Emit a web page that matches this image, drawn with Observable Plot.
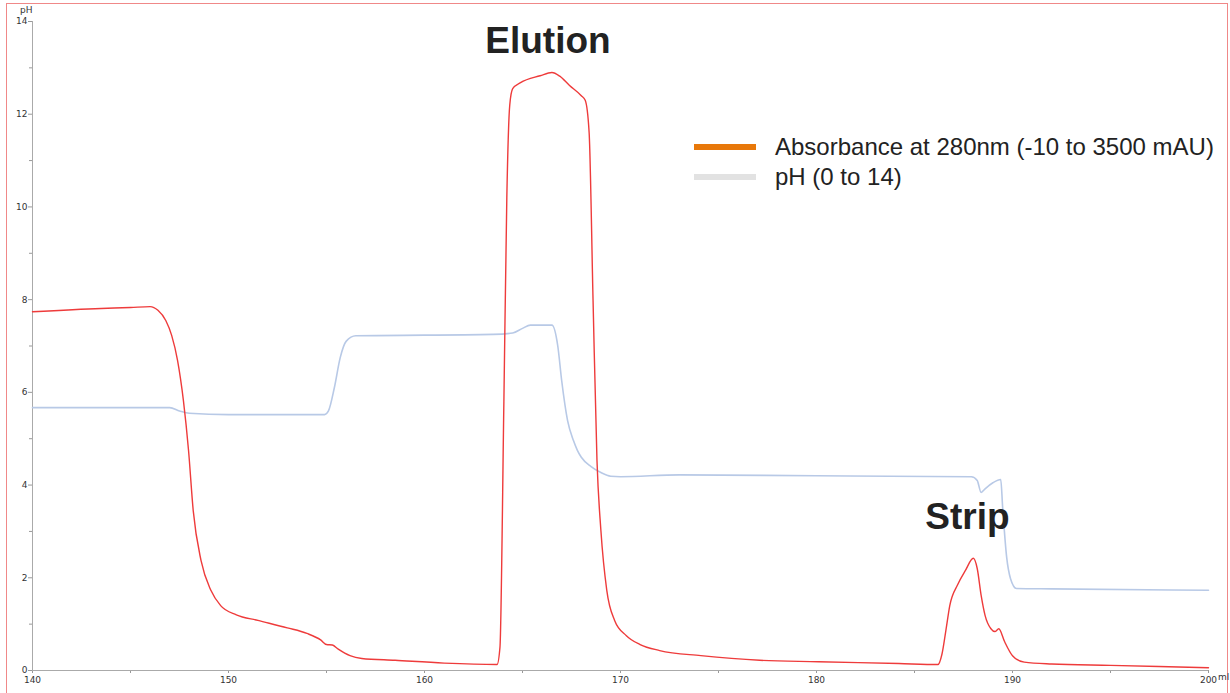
<!DOCTYPE html>
<html>
<head>
<meta charset="utf-8">
<script src="https://cdn.jsdelivr.net/npm/d3@7"></script>
<script src="https://cdn.jsdelivr.net/npm/@observablehq/plot@0.6"></script>
<style>
  html, body { margin: 0; padding: 0; background: #fff; overflow: hidden; }
  #wrap { position: relative; width: 1230px; height: 693px; }
  #frame { position: absolute; left: 6px; top: 3px; width: 1222px; height: 710px; border: 1.5px solid #f08888; box-sizing: border-box; pointer-events: none; }
  #chart { position: absolute; left: 0; top: 0; }
  .axlab { position: absolute; font-family: "DejaVu Sans", Verdana, sans-serif; font-size: 9px; color: #333; }
  #legend { position: absolute; left: 694px; top: 132px; font-family: "Liberation Sans", Arial, sans-serif; font-size: 24px; color: #222; }
  .row { display: flex; align-items: center; height: 30px; }
  .sw { width: 62px; height: 6px; margin-right: 19px; }
</style>
</head>
<body>
<div id="wrap">
  <div id="chart"></div>
  <div id="frame"></div>
  <div class="axlab" style="left:20px; top:5px;">pH</div>
  <div class="axlab" style="left:1218px; top:672px;">ml</div>
  <div id="legend">
    <div class="row"><div class="sw" style="background:#e8780a"></div><span>Absorbance at 280nm (-10 to 3500 mAU)</span></div>
    <div class="row"><div class="sw" style="background:#e2e2e2"></div><span>pH (0 to 14)</span></div>
  </div>
</div>
<script>
// Absorbance trace (plotted on the 0–14 axis scale)
const absVolume = [140, 143.5, 145, 146.0, 146.4, 146.8, 147.1, 147.4, 147.7, 147.96, 148.2, 148.6, 149.1, 149.6, 150.4, 151.5, 153.0, 154.0, 154.7, 155.0, 155.3, 155.6, 156.2, 156.8, 158.5, 161.0, 163.7,
  163.85, 164.05, 164.2, 164.35, 164.5, 164.9, 165.9, 166.5, 166.9, 167.4, 168.0, 168.2, 168.4, 168.6, 168.8, 169.0, 169.3, 169.7, 170.3, 171.0, 172.0, 174.1, 177.1, 180.1, 184.2, 186.2,
  186.4, 186.6, 186.8, 187.2, 187.6, 188.0, 188.2, 188.4, 188.6, 188.9, 189.1, 189.3, 189.6, 190.0, 190.6, 192.0, 195.0, 200];
const absValue = [7.74, 7.81, 7.83, 7.85, 7.77, 7.55, 7.23, 6.69, 5.82, 4.75, 3.45, 2.37, 1.73, 1.40, 1.20, 1.08, 0.92, 0.80, 0.66, 0.56, 0.55, 0.46, 0.32, 0.26, 0.22, 0.16, 0.13,
  0.5, 5.8, 10.2, 12.2, 12.55, 12.68, 12.83, 12.9, 12.82, 12.62, 12.4, 12.3, 11.6, 7.98, 4.53, 3.02, 1.73, 1.08, 0.75, 0.56, 0.43, 0.32, 0.22, 0.19, 0.15, 0.13,
  0.35, 0.86, 1.40, 1.85, 2.16, 2.42, 2.2, 1.62, 1.19, 0.9, 0.84, 0.9, 0.62, 0.32, 0.18, 0.14, 0.11, 0.06];

// pH trace
const phVolume = [140, 147.0, 147.5, 148.0, 150.0, 154.9, 155.1, 155.4, 155.7, 156.0, 156.5, 163.5, 164.5, 165.0, 165.4, 166.5, 166.8, 167.0, 167.3, 167.6, 167.8, 168.0, 168.5, 169.0, 169.5, 170.0, 173.0, 180.0, 187.9, 188.2, 188.4, 188.6, 189.0, 189.4, 189.5, 189.7, 189.9, 190.2, 192.0, 200];
const phValue = [5.67, 5.67, 5.6, 5.55, 5.52, 5.52, 5.6, 6.1, 6.75, 7.1, 7.22, 7.25, 7.28, 7.38, 7.45, 7.45, 7.0, 6.25, 5.39, 4.96, 4.75, 4.6, 4.4, 4.27, 4.19, 4.18, 4.22, 4.2, 4.18, 4.1, 3.84, 3.92, 4.05, 4.12, 3.5, 2.45, 1.98, 1.77, 1.76, 1.73];

// Annotations
const annoText = ["Elution", "Strip"];
const annoVolume = [166.3, 187.7];
const annoValue = [13.58, 3.3];

// Ticks
const xTicks = [140, 150, 160, 170, 180, 190, 200];
const xMinor = [145, 155, 165, 175, 185, 195];
const yTicks = [0, 2, 4, 6, 8, 10, 12, 14];
const yMinor = [1, 3, 5, 7, 9, 11, 13];

const absData = absVolume.map((v, i) => ({v, y: absValue[i]}));
const phData = phVolume.map((v, i) => ({v, y: phValue[i]}));
const annos = annoText.map((t, i) => ({t, v: annoVolume[i], y: annoValue[i]}));

const plot = Plot.plot({
  width: 1230,
  height: 693,
  marginLeft: 32,
  marginRight: 22,
  marginTop: 21,
  marginBottom: 23,
  style: {fontFamily: "'DejaVu Sans', Verdana, sans-serif", background: "transparent"},
  x: {domain: [140, 200]},
  y: {domain: [0, 14]},
  marks: [
    Plot.axisY({ticks: yTicks, tickSize: 4, tickPadding: 1, fontSize: 9, label: null, stroke: "#999", color: "#333"}),
    Plot.axisY({ticks: yMinor, tickSize: 3, text: null, label: null, stroke: "#999"}),
    Plot.axisX({ticks: xTicks, tickSize: 3, tickPadding: 3, fontSize: 9, label: null, stroke: "#999", color: "#333"}),
    Plot.axisX({ticks: xMinor, tickSize: 3, text: null, label: null, stroke: "#999"}),
    Plot.ruleX([140], {stroke: "#aaa"}),
    Plot.ruleY([0], {stroke: "#aaa"}),
    Plot.line(phData, {x: "v", y: "y", stroke: "#b8c9e6", strokeWidth: 1.6, curve: "monotone-x"}),
    Plot.line(absData, {x: "v", y: "y", stroke: "#ee3b3b", strokeWidth: 1.4, curve: "monotone-x"}),
    Plot.text(annos, {x: "v", y: "y", text: "t", fontSize: 37, fontWeight: "bold", fill: "#222", fontFamily: "'Liberation Sans', Arial, sans-serif"})
  ]
});
document.getElementById("chart").appendChild(plot);
</script>
</body>
</html>
